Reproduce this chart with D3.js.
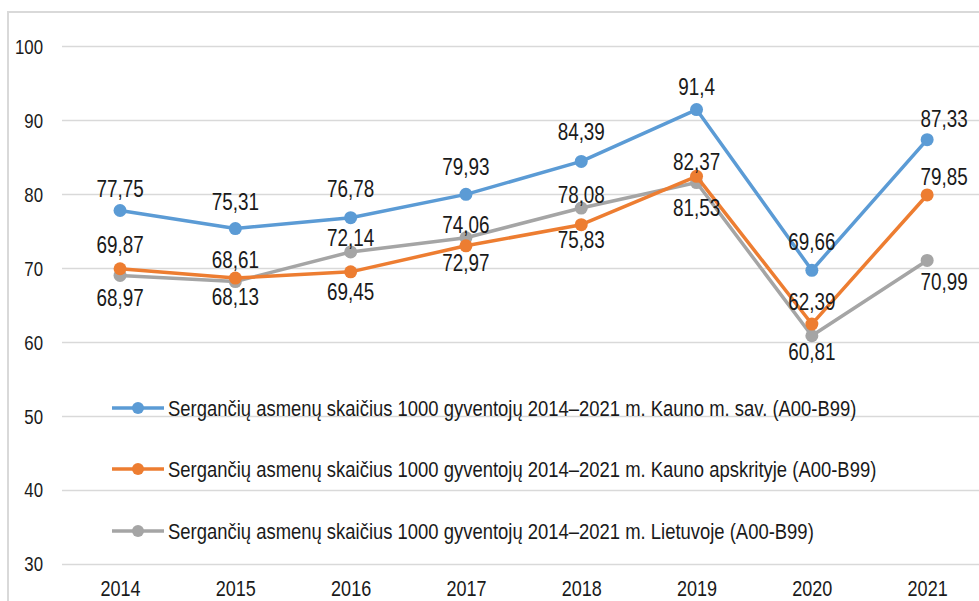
<!DOCTYPE html>
<html>
<head>
<meta charset="utf-8">
<script src="https://cdn.jsdelivr.net/npm/d3@7"></script>
<style>
  body { margin: 0; background: #fff; }
  svg text { font-family: "Liberation Sans Narrow", "Arial Narrow", "Liberation Sans", sans-serif; fill: #1a1a1a; }
</style>
</head>
<body>
<div id="container"></div>
<script>
// chart data
const years = ['2014', '2015', '2016', '2017', '2018', '2019', '2020', '2021'];
const seriesNames = [
    'Sergančių asmenų skaičius 1000 gyventojų 2014–2021 m. Kauno m. sav. (A00-B99)',
    'Sergančių asmenų skaičius 1000 gyventojų 2014–2021 m. Kauno apskrityje (A00-B99)',
    'Sergančių asmenų skaičius 1000 gyventojų 2014–2021 m. Lietuvoje (A00-B99)'
];
const kaunoSav = [77.75, 75.31, 76.78, 79.93, 84.39, 91.4, 69.66, 87.33];
const kaunoApskr = [69.87, 68.61, 69.45, 72.97, 75.83, 82.37, 62.39, 79.85];
const lietuva = [68.97, 68.13, 72.14, 74.06, 78.08, 81.53, 60.81, 70.99];
const yTicks = [30, 40, 50, 60, 70, 80, 90, 100];

// label nudges (pixels from point to text baseline), like the Excel labels were moved
const labelDy = [
    [-13, -19, -21, -19, -21, -15, -20, -13],
    [-16, -10, 28, 25, 23, -6, -14, -10],
    [31, 23, -6, -5, -5, 33, 24, 30]
];
const colors = ['#5b9bd5', '#ed7d31', '#a5a5a5'];

// no narrow font installed -> squeeze the regular one horizontally
const squeeze = 0.82;

const width = 979, height = 601;
const svg = d3.select('#container').append('svg')
    .attr('width', width)
    .attr('height', height);

// chart frame
svg.append('path')
    .attr('d', `M8,${height} V12 H${width}`)
    .attr('fill', 'none')
    .attr('stroke', '#d9d9d9')
    .attr('stroke-width', 2);

const x = d3.scalePoint().domain(years).range([62.4, 984.8]).padding(0.5);
const y = d3.scaleLinear().domain([30, 100]).range([563.5, 46]);

// gridlines
svg.append('g')
    .selectAll('line')
    .data(yTicks)
    .join('line')
    .attr('x1', 62).attr('x2', width)
    .attr('y1', d => Math.round(y(d)) + 0.5)
    .attr('y2', d => Math.round(y(d)) + 0.5)
    .attr('stroke', '#d9d9d9')
    .attr('stroke-width', 1.3);

// y axis labels
svg.append('g')
    .attr('transform', 'translate(43,0)')
    .call(d3.axisLeft(y).tickValues(yTicks).tickSize(0).tickPadding(0))
    .call(g => g.select('.domain').remove())
    .selectAll('text')
    .attr('x', 0)
    .attr('font-size', 20.5)
    .attr('dy', '0.36em')
    .attr('transform', `scale(${squeeze},1)`);

// x axis labels
svg.append('g')
    .attr('transform', 'translate(0,573)')
    .call(d3.axisBottom(x).tickSize(0).tickPadding(0))
    .call(g => g.select('.domain').remove())
    .selectAll('text')
    .attr('y', 0)
    .attr('font-size', 22)
    .attr('dy', '1.03em')
    .attr('transform', `scale(${squeeze},1)`);

const allSeries = [kaunoSav, kaunoApskr, lietuva];
const line = d3.line().x((d, i) => x(years[i])).y(d => y(d));

// legend (sits inside the plot area)
const legendY = [408, 469, 531];
const legend = svg.append('g');
seriesNames.forEach((name, s) => {
    const g = legend.append('g').attr('transform', `translate(0,${legendY[s]})`);
    g.append('line')
        .attr('x1', 112).attr('x2', 164)
        .attr('stroke', colors[s]).attr('stroke-width', 3.5);
    g.append('circle').attr('cx', 138).attr('r', 6).attr('fill', colors[s]);
    g.append('text')
        .attr('transform', `translate(168,0) scale(${squeeze},1)`)
        .attr('dy', '0.36em')
        .attr('font-size', 22.5)
        .text(name);
});

// lines + markers, drawn back to front
[2, 1, 0].forEach(s => {
    const vals = allSeries[s];
    svg.append('path')
        .datum(vals)
        .attr('d', line)
        .attr('fill', 'none')
        .attr('stroke', colors[s])
        .attr('stroke-width', 3.5)
        .attr('stroke-linejoin', 'round');

    svg.append('g')
        .selectAll('circle')
        .data(vals)
        .join('circle')
        .attr('cx', (d, i) => x(years[i]))
        .attr('cy', d => y(d))
        .attr('r', 6.5)
        .attr('fill', colors[s]);
});

// data labels
allSeries.forEach((vals, s) => {
    svg.append('g')
        .selectAll('text')
        .data(vals)
        .join('text')
        .attr('transform', (d, i) => {
            const px = x(years[i]) + (i === 7 ? 17 : 0);
            const py = y(d) + labelDy[s][i];
            return `translate(${px},${py}) scale(${squeeze},1)`;
        })
        .attr('text-anchor', 'middle')
        .attr('font-size', 23)
        .text(d => String(d).replace('.', ','));
});
</script>
</body>
</html>
